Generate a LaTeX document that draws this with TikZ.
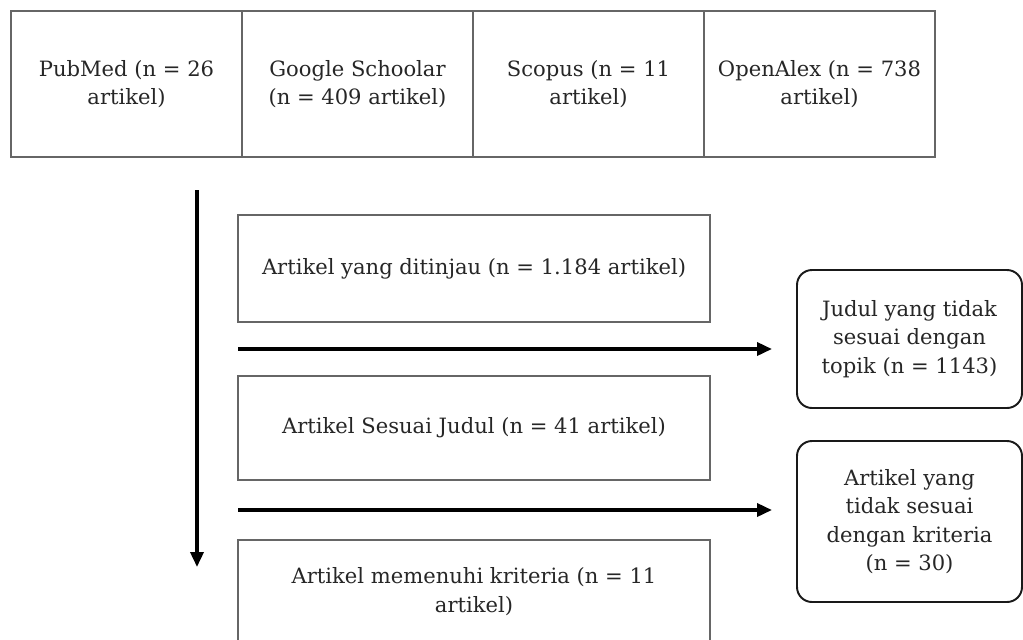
\documentclass[tikz,border=0pt]{standalone}
\usepackage{fontspec}
\setmainfont{DejaVu Serif}
\usetikzlibrary{positioning,arrows.meta,calc}

\begin{document}
\begin{tikzpicture}[->,>={Triangle[length=3mm,width=2.6mm]},line width=2pt,node distance=1.08cm,
    main node/.style={rectangle,draw=black!60,line width=0.8pt,outer sep=0pt,align=center,text=black!85,font=\fontsize{12}{16.2}\selectfont},
    top node/.style={main node,minimum width=4.62cm,minimum height=2.92cm},
    mid node/.style={main node,minimum width=9.44cm},
    side node/.style={main node,draw=black!90,line width=1.1pt,rounded corners=0.3cm,minimum width=4.5cm}]

            \useasboundingbox (0,0) rectangle (20.46,-12.78);

            \node[top node, anchor=north west] (1) at (0.22,-0.22) {PubMed (n = 26\\artikel)};
            \node[top node] (2) [right=0pt of 1] {Google Schoolar\\(n = 409 artikel)};
            \node[top node] (3) [right=0pt of 2] {Scopus (n = 11\\artikel)};
            \node[top node] (4) [right=0pt of 3] {OpenAlex (n = 738\\artikel)};

            \node[mid node, minimum height=2.14cm, anchor=north west] (5) at (4.76,-4.3) {Artikel yang ditinjau (n = 1.184 artikel)};
            \node[mid node, minimum height=2.08cm] (6) [below=of 5] {Artikel Sesuai Judul (n = 41 artikel)};
            \node[mid node, minimum height=2.06cm] (7) [below=1.2cm of 6] {Artikel memenuhi kriteria (n = 11\\artikel)};

            \node[side node, minimum height=2.76cm, anchor=north west] (8) at (15.94,-5.4) {Judul yang tidak\\sesuai dengan\\topik (n = 1143)};
            \node[side node, minimum height=3.22cm] (9) [below=0.66cm of 8] {Artikel yang\\tidak sesuai\\dengan kriteria\\(n = 30)};

            \coordinate (a1) at ($(5.south west)!0.5!(6.north west)$);
            \coordinate (a2) at ($(a1 -| 8.west)+(-0.5,0)$);
            \coordinate (b1) at ($(6.south west)!0.5!(7.north west)$);
            \coordinate (b2) at ($(b1 -| 9.west)+(-0.5,0)$);
            \coordinate (c1) at ([xshift=-0.82cm,yshift=0.5cm]5.north west);
            \coordinate (c2) at ([xshift=-0.82cm,yshift=-0.54cm]7.north west);

            \path
                (c1) edge (c2)
                (a1) edge (a2)
                (b1) edge (b2)
            ;
        \end{tikzpicture}
\end{document}
